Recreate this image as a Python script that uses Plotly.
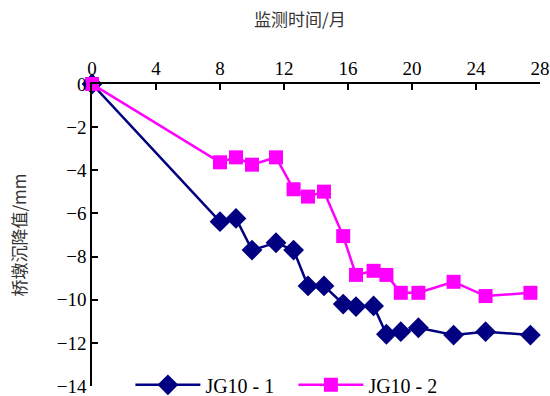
import plotly.graph_objects as go

# Monitoring time (months) and pier settlement (mm)
months = [0, 8, 9, 10, 11.5, 12.6, 13.5, 14.5, 15.7, 16.5, 17.6, 18.4, 19.3, 20.4, 22.6, 24.6, 27.4]
jg10_1 = [0, -6.38, -6.23, -7.70, -7.36, -7.70, -9.36, -9.36, -10.2, -10.32, -10.29,
          -11.6, -11.48, -11.3, -11.64, -11.48, -11.64]
jg10_2 = [0, -3.63, -3.40, -3.74, -3.40, -4.88, -5.22, -4.99, -7.05, -8.85, -8.66,
          -8.85, -9.68, -9.68, -9.17, -9.83, -9.68]

x_ticks = [0, 4, 8, 12, 16, 20, 24, 28]
y_ticks = [0, -2, -4, -6, -8, -10, -12, -14]

serif = "Liberation Serif"
cjk = "Noto Sans CJK SC"

fig = go.Figure()
fig.add_trace(go.Scatter(
    x=months, y=jg10_1, mode="lines+markers", name="JG10 - 1",
    line=dict(color="#000080", width=2.5),
    marker=dict(symbol="diamond", size=16, color="#000080"),
    cliponaxis=False,
))
fig.add_trace(go.Scatter(
    x=months, y=jg10_2, mode="lines+markers", name="JG10 - 2",
    line=dict(color="#FF00FF", width=2.5),
    marker=dict(symbol="square", size=14, color="#FF00FF"),
    cliponaxis=False,
))

fig.update_layout(
    width=550, height=396,
    margin=dict(l=92, r=10, t=84, b=10, autoexpand=False),
    paper_bgcolor="white", plot_bgcolor="white",
    font=dict(family=serif, size=19, color="black"),
    showlegend=True,
    legend=dict(
        orientation="h", x=0.0857, y=0.004, xanchor="left", yanchor="middle",
        bgcolor="rgba(0,0,0,0)", font=dict(family=serif, size=20),
        itemwidth=65, entrywidth=83,
    ),
    xaxis=dict(
        side="top", range=[0, 28], tickvals=x_ticks, automargin=False,
        showgrid=False, zeroline=False, ticklabeloverflow="allow",
        showline=True, linecolor="black", linewidth=1.5,
        ticks="inside", ticklen=6, tickcolor="black", tickwidth=1.5,
    ),
    yaxis=dict(
        range=[-14, 0], tickvals=y_ticks, automargin=False,
        showgrid=False, zeroline=False, ticklabeloverflow="allow",
        showline=True, linecolor="black", linewidth=1.5,
        ticks="inside", ticklen=6, tickcolor="black", tickwidth=1.5,
        title=dict(text="桥墩沉降值/mm", font=dict(family=cjk, size=17, color="#333"), standoff=26),
    ),
    annotations=[dict(
        text="监测时间/月", xref="paper", yref="paper", x=0.464, y=1.0,
        xanchor="center", yanchor="middle", yshift=66, showarrow=False,
        font=dict(family=cjk, size=17, color="#333"),
    )],
)

fig.write_html("out.html")
